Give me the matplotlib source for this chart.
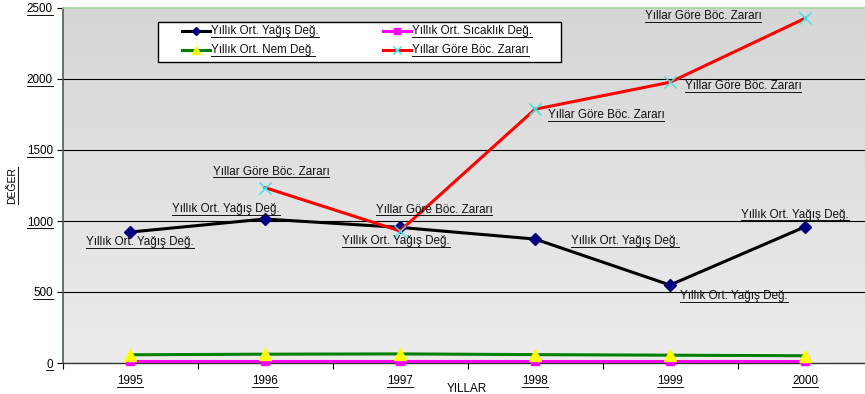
import numpy as np
import matplotlib
matplotlib.use("Agg")
import matplotlib.pyplot as plt
from matplotlib.lines import Line2D
from matplotlib.patches import Rectangle
from matplotlib.transforms import IdentityTransform

plt.rcParams['font.family'] = ['Liberation Sans', 'DejaVu Sans']

years = ["1995", "1996", "1997", "1998", "1999", "2000"]
yagis = [922, 1014, 955, 873, 549, 959]
sicaklik = [16, 16, 16, 16, 16, 16]
nem = [58, 62, 64, 59, 55, 51]
boc_years = ["1996", "1997", "1998", "1999", "2000"]
boc = [1235, 930, 1787, 1977, 2427]

lbl_yagis = "Yıllık Ort. Yağış Değ."
lbl_sic = "Yıllık Ort. Sıcaklık Değ."
lbl_nem = "Yıllık Ort. Nem Değ."
lbl_boc = "Yıllar Göre Böc. Zararı"

FS = 8.4

W, H = 865, 394
fig = plt.figure(figsize=(W / 100, H / 100), dpi=100)
fig.patch.set_facecolor("white")
ax = fig.add_axes([62.5 / W, 1 - 363 / H, 810 / W, 355 / H])


def fx(px):
    return px / W


def fy(py):
    return 1 - py / H


x = np.arange(len(years))
xb = np.array([years.index(y) for y in boc_years])

# gradient plot background, darker at the top
grad = np.linspace(0, 1, 256).reshape(-1, 1)
cmap = matplotlib.colors.LinearSegmentedColormap.from_list("bg", ["#d6d6d6", "#ececec"])
ax.imshow(grad, extent=(-0.5, 5.5, 0, 2500), origin="upper", aspect="auto", cmap=cmap, zorder=0)

ax.set_xlim(-0.5, 5.5)
ax.set_ylim(0, 2500)

for v in [500, 1000, 1500, 2000]:
    ax.axhline(v, color="black", lw=0.8, zorder=1)

series = {}
series[lbl_sic] = dict(color="#ff00ff", marker="s", ms=6, mfc="#ff00ff", mec="#ff00ff", mew=1.0)
series[lbl_nem] = dict(color="#008000", marker="^", ms=8, mfc="#ffff00", mec="#ffff00", mew=1.0)
series[lbl_yagis] = dict(color="black", marker="D", ms=6, mfc="#000080", mec="#000080", mew=1.0)
series[lbl_boc] = dict(color="#ff0000", marker="x", ms=8, mfc="none", mec="#33e5e5", mew=1.0)

ax.plot(x, sicaklik, lw=2.2, zorder=3, clip_on=False, **series[lbl_sic])
ax.plot(x, nem, lw=2.2, zorder=3, clip_on=False, **series[lbl_nem])
ax.plot(x, yagis, lw=2.2, zorder=4, **series[lbl_yagis])
ax.plot(xb, boc, lw=2.2, zorder=5, **series[lbl_boc])

texts = []
yagis_off = [(10, -10), (-39, 10), (-4, -14), (90, -2), (64, -11), (-10, 12)]
for xi, v, (dx, dy) in zip(x, yagis, yagis_off):
    texts.append(ax.annotate(lbl_yagis, (xi, v), xytext=(dx, dy), textcoords="offset pixels",
                             ha="center", va="center", fontsize=FS, color="#111111", zorder=6))
boc_off = [(6, 16), (34, 21), (71, -6), (73, -4), (-102, 2)]
for xi, v, (dx, dy) in zip(xb, boc, boc_off):
    texts.append(ax.annotate(lbl_boc, (xi, v), xytext=(dx, dy), textcoords="offset pixels",
                             ha="center", va="center", fontsize=FS, color="#111111", zorder=6))

# axes styling
ax.spines["right"].set_visible(False)
ax.spines["top"].set_color("#9fd49f")
ax.spines["top"].set_linewidth(1.2)
ax.spines["left"].set_color("#4d5e4d")
ax.spines["left"].set_linewidth(1.2)
ax.spines["bottom"].set_color("#333333")
ax.spines["bottom"].set_linewidth(1.0)

ax.set_yticks([0, 500, 1000, 1500, 2000, 2500])
ax.tick_params(axis="y", direction="out", length=4, width=0.8, pad=3, labelsize=FS)
ax.set_xticks(x)
ax.set_xticklabels(years)
ax.set_xticks(np.arange(-0.5, 6.0, 1.0), minor=True)
ax.tick_params(axis="x", which="major", length=0, pad=9, labelsize=FS)
ax.tick_params(axis="x", which="minor", direction="out", length=4, width=0.8)

ax.set_xlabel("YILLAR", fontsize=FS)
ax.set_ylabel("DEĞER", fontsize=7.5)
ax.xaxis.set_label_coords((467 - 62.5) / 810, -20 / 355)
ax.yaxis.set_label_coords((17 - 62.5) / 810, 0.5)

# legend box with two columns of entries
fig.add_artist(Rectangle((fx(159), fy(63)), fx(562) - fx(159), fy(23) - fy(63),
                         transform=fig.transFigure, facecolor="#333333", edgecolor="none",
                         zorder=6.9))
fig.add_artist(Rectangle((fx(158), fy(62)), fx(561) - fx(158), fy(22) - fy(62),
                         transform=fig.transFigure, facecolor="white", edgecolor="black",
                         lw=1.0, zorder=7))
leg_entries = [(lbl_yagis, 182, 31), (lbl_sic, 383, 31), (lbl_nem, 182, 50), (lbl_boc, 383, 50)]
leg_ms = {lbl_yagis: 4.5, lbl_sic: 5, lbl_nem: 6, lbl_boc: 6}
leg_texts = []
for lbl, hx, hy in leg_entries:
    st = series[lbl]
    fig.add_artist(Line2D([fx(hx), fx(hx + 28)], [fy(hy), fy(hy)], transform=fig.transFigure,
                          color=st["color"], lw=2.2, zorder=8))
    fig.add_artist(Line2D([fx(hx + 14)], [fy(hy)], transform=fig.transFigure, linestyle="none",
                          marker=st["marker"], ms=leg_ms[lbl], mfc=st["mfc"], mec=st["mec"],
                          mew=st["mew"], zorder=9))
    leg_texts.append(fig.text(fx(hx + 29), fy(hy), lbl, ha="left", va="center", fontsize=FS,
                              color="#111111", zorder=9))

# underline every text element
fig.canvas.draw()
r = fig.canvas.get_renderer()
under = list(texts) + leg_texts + list(ax.get_yticklabels()) + list(ax.get_xticklabels())
under.append(ax.xaxis.label)
for t in under:
    bb = t.get_window_extent(r)
    fig.add_artist(Line2D([bb.x0, bb.x1], [bb.y0 + 0.5, bb.y0 + 0.5], transform=IdentityTransform(),
                          color="#111111", lw=0.7, zorder=10))
bb = ax.yaxis.label.get_window_extent(r)
fig.add_artist(Line2D([bb.x1 + 1, bb.x1 + 1], [bb.y0, bb.y1], transform=IdentityTransform(),
                      color="#111111", lw=0.7))

fig.savefig("out.png", dpi=100)
